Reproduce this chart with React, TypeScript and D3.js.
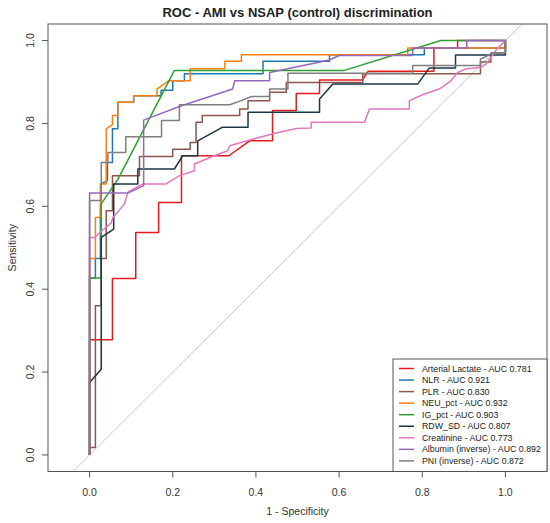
import * as d3 from "d3";
import { useRef, useEffect } from "react";

// ROC points as [1 - specificity, sensitivity]
const lactate = [[0, 0], [0, 0.278], [0.055, 0.278], [0.055, 0.426], [0.111, 0.426], [0.111, 0.537], [0.166, 0.537], [0.166, 0.609], [0.221, 0.609], [0.221, 0.722], [0.335, 0.722], [0.385, 0.758], [0.44, 0.758], [0.44, 0.831], [0.497, 0.831], [0.497, 0.872], [0.553, 0.872], [0.553, 0.905], [0.656, 0.905], [0.67, 0.926], [0.828, 0.926], [0.828, 0.982], [0.885, 0.982], [0.885, 1], [1, 1]];
const nlr = [[0, 0], [0, 0.427], [0.014, 0.427], [0.014, 0.474], [0.026, 0.474], [0.026, 0.573], [0.028, 0.654], [0.043, 0.662], [0.043, 0.706], [0.055, 0.706], [0.055, 0.787], [0.068, 0.787], [0.068, 0.851], [0.106, 0.851], [0.106, 0.867], [0.172, 0.867], [0.172, 0.88], [0.2, 0.88], [0.2, 0.903], [0.228, 0.903], [0.228, 0.92], [0.417, 0.92], [0.417, 0.95], [0.577, 0.95], [0.577, 0.966], [0.805, 0.966], [0.805, 0.982], [1, 0.982], [1, 1]];
const plr = [[0, 0], [0, 0.018], [0.014, 0.018], [0.014, 0.36], [0.028, 0.36], [0.028, 0.474], [0.04, 0.474], [0.04, 0.589], [0.055, 0.589], [0.055, 0.674], [0.12, 0.674], [0.12, 0.72], [0.2, 0.72], [0.2, 0.738], [0.242, 0.738], [0.242, 0.754], [0.256, 0.754], [0.256, 0.803], [0.271, 0.803], [0.271, 0.819], [0.361, 0.819], [0.361, 0.835], [0.381, 0.835], [0.381, 0.855], [0.433, 0.855], [0.433, 0.875], [0.473, 0.875], [0.473, 0.899], [0.657, 0.899], [0.657, 0.92], [0.94, 0.92], [0.94, 0.948], [0.965, 0.948], [0.965, 0.97], [1, 0.97], [1, 1]];
const neu = [[0, 0], [0, 0.474], [0.014, 0.474], [0.014, 0.573], [0.026, 0.573], [0.026, 0.654], [0.04, 0.654], [0.04, 0.787], [0.055, 0.797], [0.055, 0.819], [0.068, 0.819], [0.068, 0.851], [0.106, 0.851], [0.106, 0.867], [0.162, 0.867], [0.162, 0.883], [0.19, 0.903], [0.242, 0.903], [0.242, 0.932], [0.325, 0.932], [0.325, 0.95], [0.365, 0.95], [0.365, 0.966], [0.765, 0.966], [0.765, 0.982], [1, 0.982], [1, 1]];
const igPct = [[0, 0], [0, 0.427], [0.028, 0.427], [0.028, 0.606], [0.068, 0.665], [0.204, 0.928], [0.613, 0.928], [0.845, 1], [1, 1]];
const rdw = [[0, 0], [0, 0.175], [0.028, 0.207], [0.028, 0.525], [0.058, 0.545], [0.058, 0.654], [0.116, 0.654], [0.116, 0.69], [0.204, 0.69], [0.224, 0.722], [0.26, 0.722], [0.26, 0.758], [0.32, 0.791], [0.381, 0.791], [0.381, 0.827], [0.553, 0.827], [0.553, 0.859], [0.585, 0.895], [0.789, 0.895], [0.817, 0.934], [0.88, 0.934], [0.88, 0.965], [1, 0.965], [1, 1]];
const creatinine = [[0, 0], [0, 0.525], [0.012, 0.525], [0.04, 0.55], [0.052, 0.56], [0.056, 0.573], [0.07, 0.589], [0.084, 0.606], [0.092, 0.634], [0.128, 0.654], [0.184, 0.654], [0.216, 0.674], [0.252, 0.686], [0.252, 0.702], [0.3, 0.722], [0.332, 0.734], [0.337, 0.746], [0.365, 0.754], [0.385, 0.76], [0.441, 0.775], [0.497, 0.788], [0.533, 0.789], [0.533, 0.803], [0.661, 0.803], [0.673, 0.835], [0.769, 0.835], [0.769, 0.855], [0.805, 0.871], [0.841, 0.883], [0.869, 0.903], [0.885, 0.923], [0.906, 0.932], [0.94, 0.935], [0.954, 0.944], [0.98, 0.98], [1, 1]];
const albumin = [[0, 0], [0, 0.632], [0.092, 0.632], [0.13, 0.65], [0.13, 0.808], [0.216, 0.841], [0.344, 0.883], [0.349, 0.903], [0.433, 0.903], [0.433, 0.923], [0.577, 0.953], [0.6, 0.964], [0.777, 0.964], [0.777, 0.982], [0.907, 0.982], [0.907, 1], [1, 1]];
const pni = [[0, 0], [0, 0.614], [0.028, 0.614], [0.028, 0.706], [0.044, 0.706], [0.044, 0.73], [0.087, 0.73], [0.087, 0.768], [0.173, 0.768], [0.173, 0.807], [0.216, 0.807], [0.216, 0.845], [0.337, 0.845], [0.365, 0.855], [0.389, 0.865], [0.433, 0.865], [0.433, 0.883], [0.477, 0.883], [0.477, 0.921], [0.777, 0.921], [0.777, 0.94], [0.94, 0.94], [0.94, 0.955], [0.97, 0.97], [1, 0.97], [1, 1]];

const seriesNames = ["Arterial Lactate", "NLR", "PLR", "NEU_pct", "IG_pct", "RDW_SD", "Creatinine", "Albumin (inverse)", "PNI (inverse)"];
const aucValues = [0.781, 0.921, 0.83, 0.932, 0.903, 0.807, 0.773, 0.892, 0.872];
const seriesPoints = [lactate, nlr, plr, neu, igPct, rdw, creatinine, albumin, pni];
const colors = ["#e41a1c", "#1f77b4", "#8c564b", "#ff7f0e", "#2ca02c", "#1b3647", "#e377c2", "#9467bd", "#7f7f7f"];
const ticks = [0, 0.2, 0.4, 0.6, 0.8, 1.0];

const W = 550;
const H = 523;

export default function App() {
  const ref = useRef(null);

  useEffect(() => {
    const svg = d3.select(ref.current);
    svg.selectAll("*").remove();
    const font = "Liberation Sans, Arial, Helvetica, sans-serif";

    const left = 48, right = 547, top = 24, bottom = 471.5;
    const x = d3.scaleLinear().domain([-0.1, 1.1]).range([left, right]);
    const y = d3.scaleLinear().domain([-0.04, 1.04]).range([bottom, top]);

    svg.append("defs").append("clipPath").attr("id", "plotclip")
      .append("rect").attr("x", left).attr("y", top)
      .attr("width", right - left).attr("height", bottom - top);

    // reference diagonal
    svg.append("line")
      .attr("clip-path", "url(#plotclip)")
      .attr("x1", x(-0.1)).attr("y1", y(-0.1))
      .attr("x2", x(1.1)).attr("y2", y(1.1))
      .attr("stroke", "#c8c8c8").attr("stroke-width", 1);

    const line = d3.line().x((d) => x(d[0])).y((d) => y(d[1]));

    seriesPoints.forEach((pts, i) => {
      svg.append("path")
        .datum(pts)
        .attr("d", line)
        .attr("fill", "none")
        .attr("stroke", colors[i])
        .attr("stroke-width", 1.5)
        .attr("stroke-linejoin", "round");
    });

    // frame
    svg.append("rect")
      .attr("x", left).attr("y", top)
      .attr("width", right - left).attr("height", bottom - top)
      .attr("fill", "none").attr("stroke", "#555").attr("stroke-width", 1);

    // x axis
    const xa = svg.append("g");
    ticks.forEach((t) => {
      xa.append("line").attr("x1", x(t)).attr("x2", x(t))
        .attr("y1", bottom).attr("y2", bottom + 6).attr("stroke", "#555");
      xa.append("text").attr("x", x(t)).attr("y", bottom + 24)
        .attr("text-anchor", "middle").attr("font-family", font)
        .attr("font-size", 10.5).attr("fill", "#333").text(t.toFixed(1));
    });

    // y axis
    const ya = svg.append("g");
    ticks.forEach((t) => {
      ya.append("line").attr("x1", left - 6).attr("x2", left)
        .attr("y1", y(t)).attr("y2", y(t)).attr("stroke", "#555");
      ya.append("text")
        .attr("transform", `translate(${left - 14},${y(t)}) rotate(-90)`)
        .attr("text-anchor", "middle").attr("font-family", font)
        .attr("font-size", 10.5).attr("fill", "#333").text(t.toFixed(1));
    });

    const cx = (left + right) / 2;
    svg.append("text").attr("x", cx).attr("y", 17)
      .attr("text-anchor", "middle").attr("font-family", font)
      .attr("font-size", 13).attr("font-weight", "bold").attr("fill", "#222")
      .text("ROC - AMI vs NSAP (control) discrimination");
    svg.append("text").attr("x", cx).attr("y", 515)
      .attr("text-anchor", "middle").attr("font-family", font)
      .attr("font-size", 10.5).attr("fill", "#333").text("1 - Specificity");
    svg.append("text")
      .attr("transform", `translate(16,${(top + bottom) / 2}) rotate(-90)`)
      .attr("text-anchor", "middle").attr("font-family", font)
      .attr("font-size", 10.5).attr("fill", "#333").text("Sensitivity");

    // legend
    const lgLeft = 393, lgTop = 359, rowH = 11.55;
    svg.append("rect").attr("x", lgLeft).attr("y", lgTop)
      .attr("width", right - lgLeft).attr("height", bottom - lgTop)
      .attr("fill", "white").attr("stroke", "#555").attr("stroke-width", 1);
    seriesNames.forEach((name, i) => {
      const ry = lgTop + 9.5 + i * rowH;
      svg.append("line").attr("x1", lgLeft + 6).attr("x2", lgLeft + 21)
        .attr("y1", ry).attr("y2", ry)
        .attr("stroke", colors[i]).attr("stroke-width", 1.5);
      svg.append("text").attr("x", lgLeft + 29).attr("y", ry + 3)
        .attr("font-family", font).attr("font-size", 8.8).attr("fill", "#222")
        .text(`${name} - AUC ${aucValues[i].toFixed(3)}`);
    });
  }, []);

  return (
    <svg
      ref={ref}
      width={W}
      height={H}
      style={{ position: "absolute", left: 0, top: 0, background: "white" }}
    />
  );
}
